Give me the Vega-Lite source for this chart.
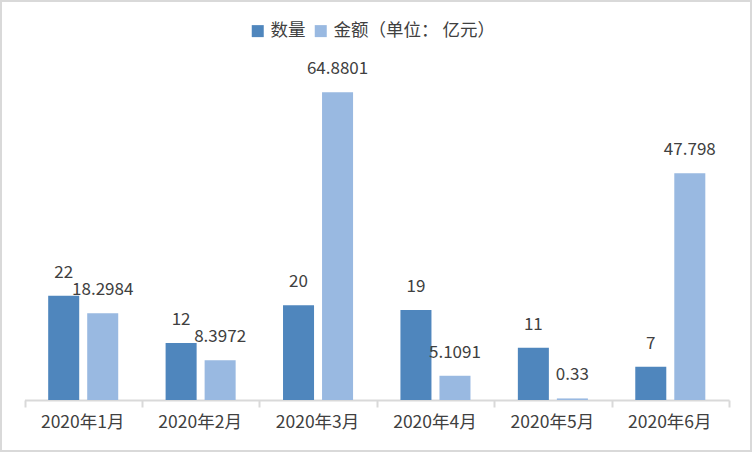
{
  "$schema": "https://vega.github.io/schema/vega-lite/v6.json",
  "width": 752,
  "height": 452,
  "padding": 0,
  "autosize": "none",
  "background": "white",
  "config": {
    "font": "Noto Sans CJK SC",
    "view": {"stroke": "#d9d9d9", "strokeWidth": 4}
  },
  "data": {
    "values": [
      {"month": "2020年1月", "series": "数量", "value": 22},
      {"month": "2020年1月", "series": "金额（单位： 亿元）", "value": 18.2984},
      {"month": "2020年2月", "series": "数量", "value": 12},
      {"month": "2020年2月", "series": "金额（单位： 亿元）", "value": 8.3972},
      {"month": "2020年3月", "series": "数量", "value": 20},
      {"month": "2020年3月", "series": "金额（单位： 亿元）", "value": 64.8801},
      {"month": "2020年4月", "series": "数量", "value": 19},
      {"month": "2020年4月", "series": "金额（单位： 亿元）", "value": 5.1091},
      {"month": "2020年5月", "series": "数量", "value": 11},
      {"month": "2020年5月", "series": "金额（单位： 亿元）", "value": 0.33},
      {"month": "2020年6月", "series": "数量", "value": 7},
      {"month": "2020年6月", "series": "金额（单位： 亿元）", "value": 47.798}
    ]
  },
  "encoding": {
    "x": {
      "field": "month",
      "type": "nominal",
      "scale": {"range": [24.5, 729], "paddingInner": 0, "paddingOuter": 0},
      "axis": {
        "title": null,
        "offset": -52,
        "labelAngle": 0,
        "labelFontSize": 17.5,
        "labelColor": "#404040",
        "labelPadding": 6,
        "labelOffset": -1,
        "domainColor": "#d9d9d9",
        "domainWidth": 2,
        "tickColor": "#d9d9d9",
        "tickWidth": 2,
        "tickSize": 7,
        "tickBand": "extent"
      }
    },
    "xOffset": {
      "field": "series",
      "type": "nominal",
      "scale": {"paddingInner": 0.205, "paddingOuter": 0.607}
    },
    "y": {
      "field": "value",
      "type": "quantitative",
      "scale": {"domain": [0, 70], "range": [400, 68]},
      "axis": null
    }
  },
  "layer": [
    {
      "mark": {"type": "bar"},
      "encoding": {
        "color": {
          "field": "series",
          "type": "nominal",
          "scale": {"range": ["#4f86bd", "#99b9e1"]},
          "legend": {
            "title": null,
            "orient": "none",
            "legendX": 249,
            "legendY": 22,
            "direction": "horizontal",
            "symbolType": "square",
            "symbolSize": 144,
            "symbolStrokeWidth": 0,
            "labelFontSize": 17.5,
            "labelColor": "#404040",
            "labelLimit": 300,
            "columnPadding": 6
          }
        }
      }
    },
    {
      "mark": {"type": "text", "fontSize": 17, "color": "#404040", "baseline": "middle", "dy": -23},
      "encoding": {
        "text": {"field": "value", "type": "nominal"}
      }
    }
  ]
}
